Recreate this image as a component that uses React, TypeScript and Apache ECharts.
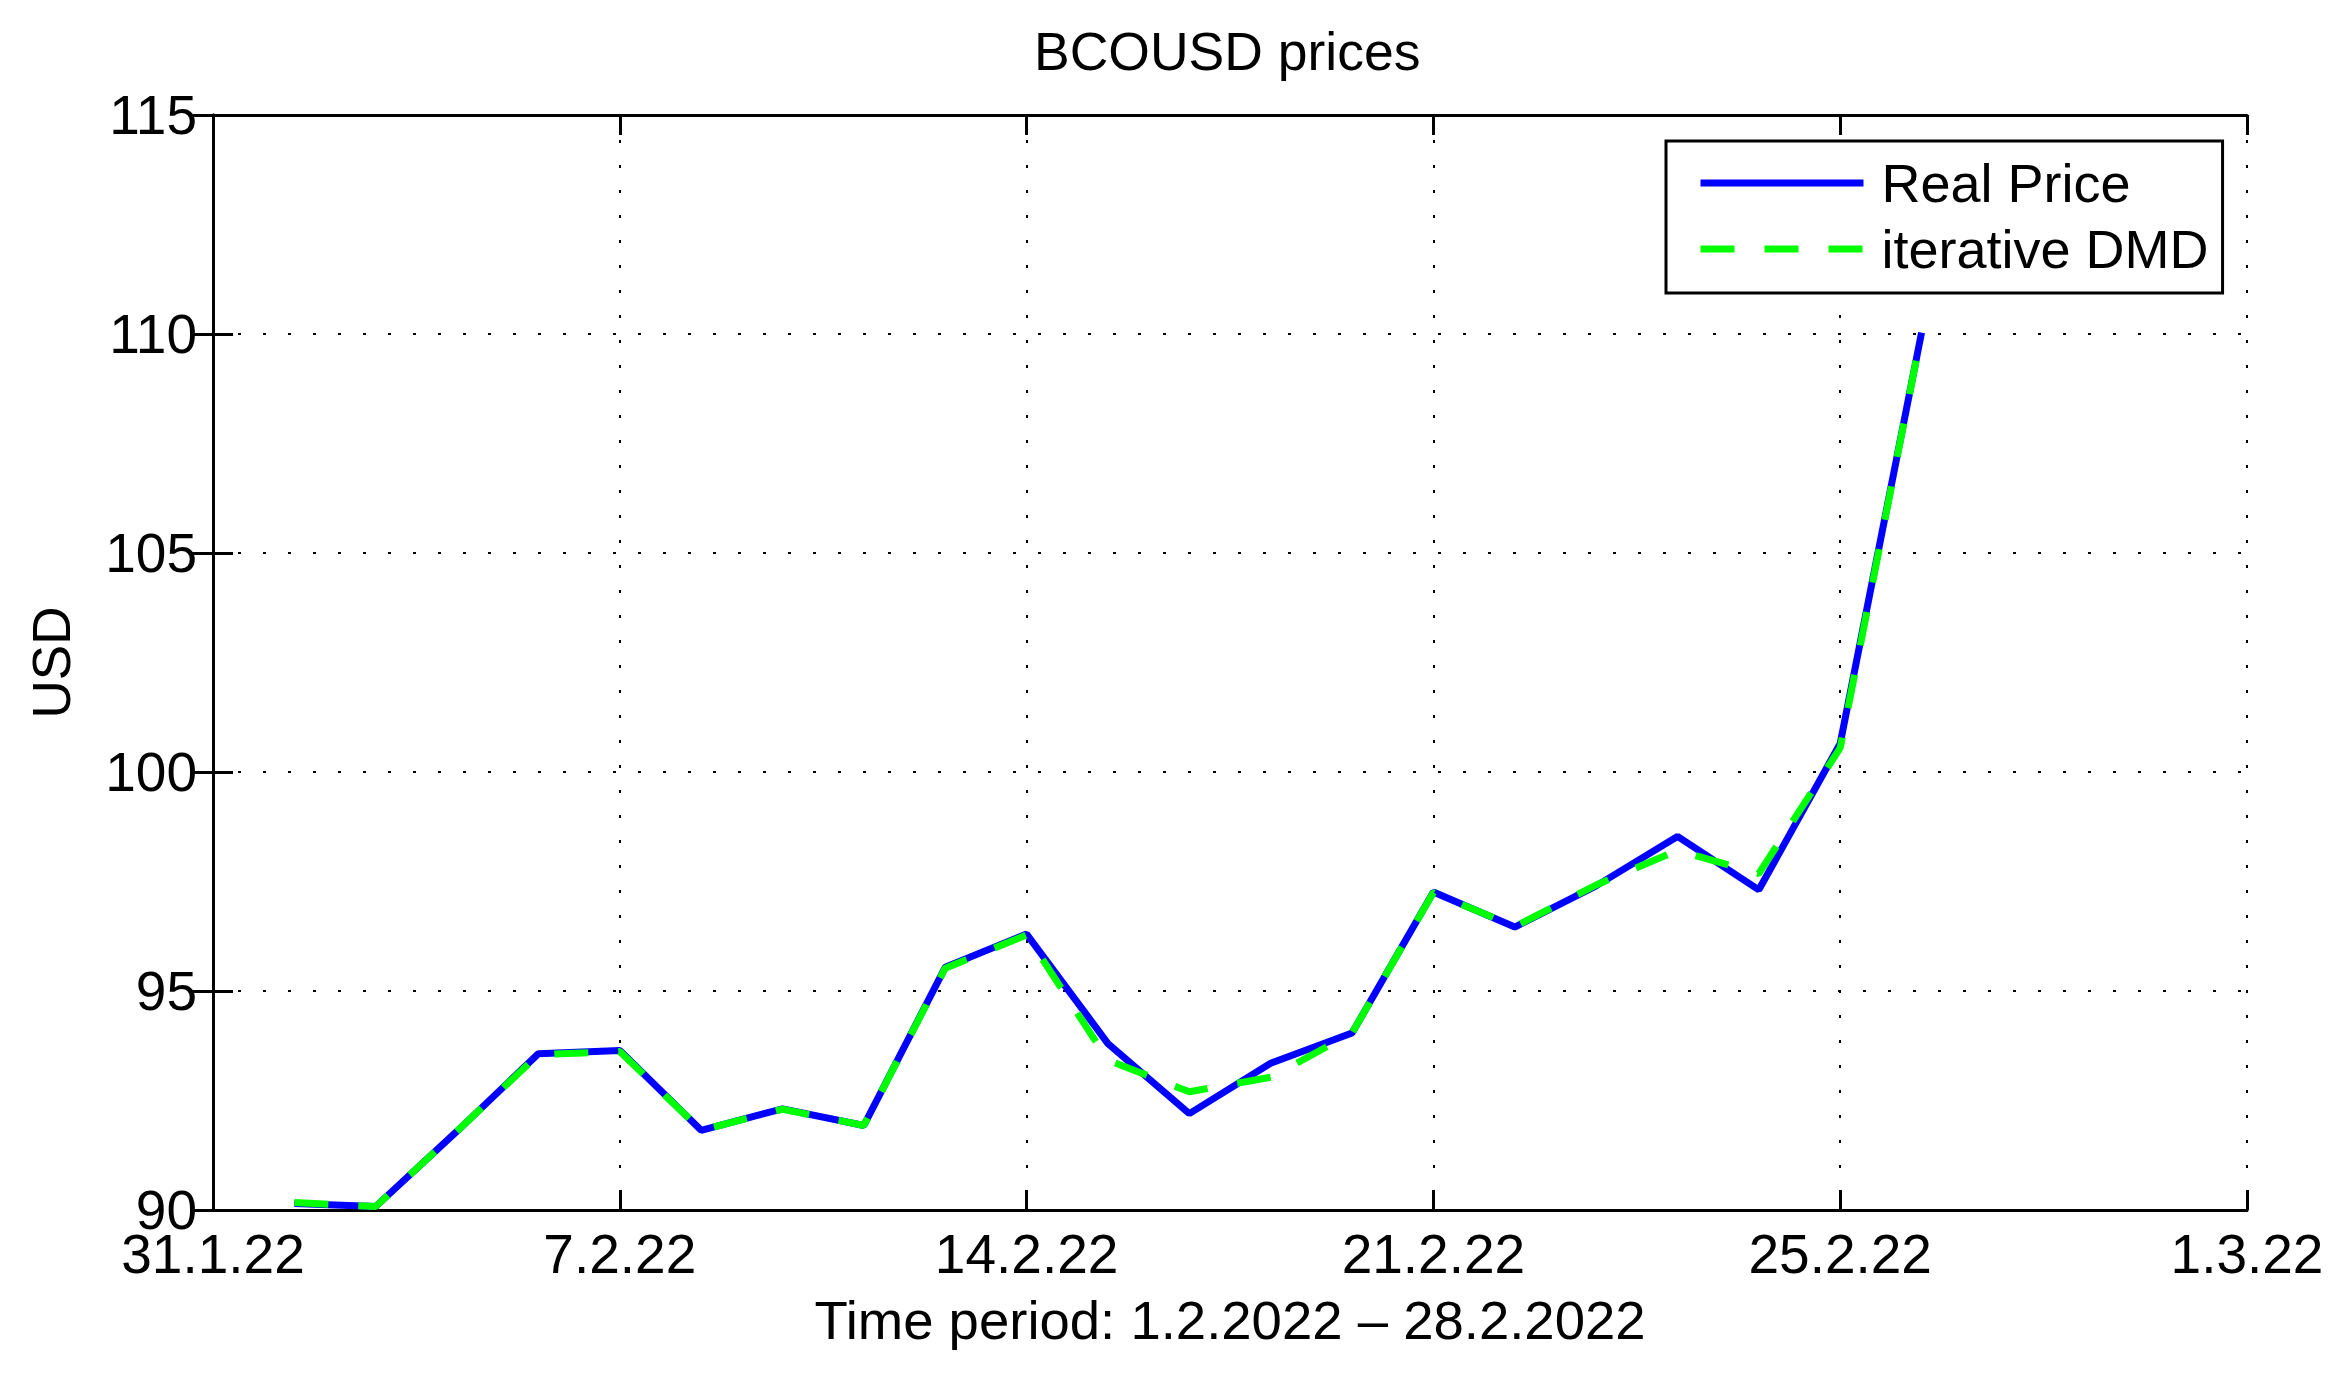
import { useEffect, useRef } from 'react';
import * as echarts from 'echarts';

const FONT = '"Liberation Sans", Arial, Helvetica, sans-serif';

// trading days of February 2022 (x position on the index axis)
const tradingDay = [1, 2, 3, 4, 5, 6, 7, 8, 9, 10, 11, 12, 13, 14, 15, 16, 17, 18, 19, 20, 21];

const realPrice = [
  90.15, 90.08, 91.8, 93.57, 93.64, 91.82, 92.31, 91.93, 95.54, 96.3, 93.8,
  92.2, 93.35, 94.04, 97.26, 96.46, 97.4, 98.53, 97.31, 100.65, 110.03,
];

const dmdPrice = [
  90.17, 90.08, 91.8, 93.55, 93.62, 91.82, 92.3, 91.93, 95.52, 96.28, 93.42,
  92.7, 93.03, 94.04, 97.25, 96.47, 97.42, 98.21, 97.68, 100.55, 110.03,
];

const dateTickLabels = ['31.1.22', '7.2.22', '14.2.22', '21.2.22', '25.2.22', '1.3.22'];

export default function App() {
  const chartRef = useRef<HTMLDivElement>(null);

  useEffect(() => {
    document.body.style.margin = '0';
    if (!chartRef.current) return;

    const chart = echarts.init(chartRef.current, undefined, { renderer: 'svg' });

    const tick = {
      show: true,
      inside: true,
      length: 20,
      lineStyle: { color: '#000', width: 3 },
    };
    const axisLine = { show: true, lineStyle: { color: '#000', width: 3 } };
    const grid = {
      show: true,
      lineStyle: { color: '#000', width: 2, type: [3, 22] as number[] },
    };

    const option: echarts.EChartsOption = {
      animation: false,
      backgroundColor: '#fff',
      title: {
        text: 'BCOUSD prices',
        left: 1034,
        top: 24,
        padding: 0,
        textStyle: {
          color: '#000',
          fontSize: 53.5,
          fontWeight: 'normal',
          fontFamily: FONT,
        },
      },
      legend: {
        orient: 'vertical',
        left: 1666,
        top: 141,
        padding: [15, 14, 17, 31],
        borderColor: '#000',
        borderWidth: 3,
        borderRadius: 0,
        backgroundColor: '#fff',
        itemWidth: 163,
        itemHeight: 14,
        itemGap: 12,
        lineStyle: { width: 7 },
        itemStyle: { opacity: 0 },
        textStyle: {
          color: '#000',
          fontSize: 54,
          fontFamily: FONT,
          padding: [0, 0, 0, 13],
        },
        data: ['Real Price', 'iterative DMD'],
      },
      grid: {
        left: 213,
        right: 105,
        top: 115,
        bottom: 171,
        containLabel: false,
      },
      xAxis: [
        {
          type: 'value',
          min: 0,
          max: 25,
          interval: 5,
          name: 'Time period: 1.2.2022 \u2013 28.2.2022',
          nameLocation: 'middle',
          nameGap: 83,
          nameTextStyle: { color: '#000', fontSize: 54.5, fontFamily: FONT },
          axisLine,
          axisTick: tick,
          splitLine: grid,
          axisLabel: {
            color: '#000',
            fontSize: 55,
            lineHeight: 44,
            fontFamily: FONT,
            margin: 22,
            showMinLabel: true,
            showMaxLabel: true,
            formatter: (v: number) => dateTickLabels[Math.round(v / 5)] ?? '',
          },
        },
        {
          type: 'value',
          position: 'top',
          min: 0,
          max: 25,
          interval: 5,
          axisLine,
          axisTick: tick,
          axisLabel: { show: false },
          splitLine: { show: false },
        },
      ],
      yAxis: [
        {
          type: 'value',
          min: 90,
          max: 115,
          interval: 5,
          name: 'USD',
          nameLocation: 'middle',
          nameGap: 135,
          nameTextStyle: { color: '#000', fontSize: 53, fontFamily: FONT },
          axisLine,
          axisTick: tick,
          splitLine: grid,
          axisLabel: {
            color: '#000',
            fontSize: 55,
            lineHeight: 40,
            fontFamily: FONT,
            margin: 16,
          },
        },
        {
          type: 'value',
          position: 'right',
          min: 90,
          max: 115,
          interval: 5,
          axisLine,
          axisTick: tick,
          axisLabel: { show: false },
          splitLine: { show: false },
        },
      ],
      series: [
        {
          name: 'Real Price',
          type: 'line',
          xAxisIndex: 0,
          yAxisIndex: 0,
          symbol: 'none',
          data: tradingDay.map((d, i) => [d, realPrice[i]]),
          lineStyle: { color: '#0000ff', width: 7 },
          itemStyle: { color: '#0000ff' },
        },
        {
          name: 'iterative DMD',
          type: 'line',
          xAxisIndex: 0,
          yAxisIndex: 0,
          symbol: 'none',
          data: tradingDay.map((d, i) => [d, dmdPrice[i]]),
          lineStyle: { color: '#00ff00', width: 7, type: [34, 30] },
          itemStyle: { color: '#00ff00' },
        },
      ],
    };

    chart.setOption(option);

    return () => {
      chart.dispose();
    };
  }, []);

  return <div ref={chartRef} style={{ width: 2352, height: 1381, background: '#fff' }} />;
}
